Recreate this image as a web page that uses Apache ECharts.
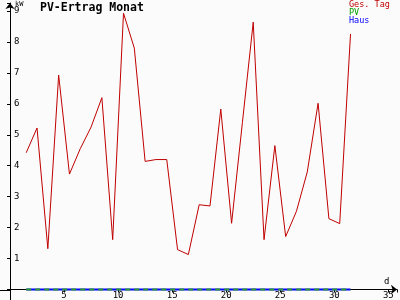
<!DOCTYPE html>
<html>
<head>
<meta charset="utf-8">
<script src="https://cdn.jsdelivr.net/npm/echarts@6/dist/echarts.min.js"></script>
<style>html,body{margin:0;padding:0;background:#fbfbfb;}#c{width:400px;height:300px;}</style>
</head>
<body>
<div id="c"></div>
<script>
const days = [1,2,3,4,5,6,7,8,9,10,11,12,13,14,15,16,17,18,19,20,21,22,23,24,25,26,27,28,29,30,31];
const gesTag = [4.42,5.22,1.32,6.93,3.73,4.55,5.25,6.2,1.61,8.93,7.8,4.14,4.2,4.2,1.29,1.13,2.74,2.7,5.83,2.14,5.4,8.64,1.61,4.65,1.71,2.53,3.8,6.02,2.29,2.13,8.26];
const pv = [0,0,0,0,0,0,0,0,0,0,0,0,0,0,0,0,0,0,0,0,0,0,0,0,0,0,0,0,0,0,0];
const haus = [0,0,0,0,0,0,0,0,0,0,0,0,0,0,0,0,0,0,0,0,0,0,0,0,0,0,0,0,0,0,0];
const title = 'PV-Ertrag Monat';
const seriesNames = ['Ges. Tag','PV','Haus'];
const yUnit = 'kW';
const xUnit = 'd';

const FONT = 'DejaVu Sans Mono';
const pts = arr => days.map((d,i) => [d + 0.5, arr[i]]);

const chart = echarts.init(document.getElementById('c'), null, {renderer:'canvas'});
chart.setOption({
  backgroundColor: '#fbfbfb',
  animation: false,
  grid: {left: 10, right: 1.6, top: 3, bottom: 10, containLabel: false},
  xAxis: {
    type: 'value', min: 0, max: 35.8, interval: 5, z: 0,
    splitLine: {show: false},
    axisLine: {lineStyle: {color: '#000', width: 1}, symbol: ['none','arrow'], symbolSize: [7,6]},
    axisTick: {show: true, length: 3, lineStyle: {color:'#000'}},
    axisLabel: {margin: 2, lineHeight: 8, color: '#000', fontFamily: FONT, fontSize: 9,
      formatter: v => (v > 0 && v % 5 === 0) ? String(v) : ''}
  },
  yAxis: {
    type: 'value', min: 0, max: 9.26, interval: 1, z: 0,
    splitLine: {show: false},
    axisLine: {lineStyle: {color: '#000', width: 1}, symbol: ['none','arrow'], symbolSize: [7,6]},
    axisTick: {show: true, length: 3, lineStyle: {color:'#000'}},
    axisLabel: {inside: true, margin: 4, color: '#000', fontFamily: FONT, fontSize: 9,
      formatter: v => (v > 0 && Number.isInteger(v)) ? String(v) : ''}
  },
  series: [
    {name: seriesNames[2], type: 'line', data: pts(haus), symbol: 'none', clip: false, z: 5,
     lineStyle: {color: '#0000ff', width: 2}},
    {name: seriesNames[1], type: 'line', data: pts(pv), symbol: 'none', clip: false, z: 6,
     lineStyle: {color: '#2e9a2e', width: 2, type: [5,4]}},
    {name: seriesNames[0], type: 'line', data: pts(gesTag), symbol: 'none', clip: false, z: 7,
     lineStyle: {color: '#c00000', width: 1}}
  ],
  graphic: [
    {type:'line', shape:{x1: 0, y1: 290.5, x2: 10, y2: 290.5}, style:{stroke:'#000', lineWidth: 1}},
    {type:'line', shape:{x1: 10.5, y1: 290, x2: 10.5, y2: 300}, style:{stroke:'#000', lineWidth: 1}},
    {type:'text', left: 40, top: 2, style:{text: title, fill:'#000', font: 'bold 11.5px "DejaVu Sans Mono"'}},
    {type:'text', left: 15, top: 1, style:{text: yUnit, fill:'#000', font: '7px "DejaVu Sans Mono"'}},
    {type:'text', left: 384, top: 277, style:{text: xUnit, fill:'#000', font: '9px "DejaVu Sans Mono"'}},
    {type:'text', left: 349, top: 0, style:{text: seriesNames[0], fill:'#c00000', font: '8.5px "DejaVu Sans Mono"'}},
    {type:'text', left: 349, top: 8, style:{text: seriesNames[1], fill:'#00a000', font: '8.5px "DejaVu Sans Mono"'}},
    {type:'text', left: 349, top: 16, style:{text: seriesNames[2], fill:'#0000ff', font: '8.5px "DejaVu Sans Mono"'}}
  ]
});
</script>
</body>
</html>
